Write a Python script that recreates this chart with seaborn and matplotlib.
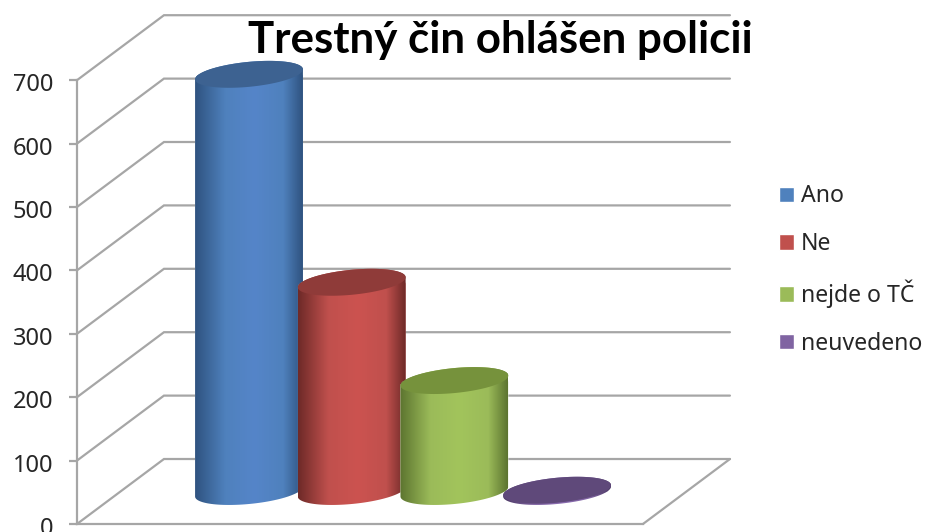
import numpy as np
import seaborn as sns
import matplotlib.pyplot as plt
from matplotlib.colors import LinearSegmentedColormap
from matplotlib.patches import Polygon
from matplotlib.transforms import ScaledTranslation

# Chart data
categories = ['Ano', 'Ne', 'nejde o TČ', 'neuvedeno']
values = [658, 330, 175, 2]
y_ticks = [0, 100, 200, 300, 400, 500, 600, 700]
title = 'Trestný čin ohlášen policii'

# Colours
colors = ['#4f81bd', '#c0504d', '#9bbb59', '#8064a2']
top_colors = ['#3d6291', '#8f3b39', '#76923c', '#5f497a']
dark_colors = ['#2f5380', '#6e2a28', '#5d7530', '#4b3864']
light_colors = ['#5585c9', '#cc5350', '#a2c45c', '#8a6cb0']
grid_color = '#a6a6a6'

# Pixel scale of the axes, which fill the whole figure
px_x = 102.7
px_y = 0.634
depth = 51.25
depth_x = 0.847
wall_left = -1.675
wall_right = 4.683

sns.set_theme(style='white')
plt.rcParams['font.family'] = ['Noto Sans', 'DejaVu Sans']

fig = plt.figure(figsize=(9.28, 5.32), dpi=100)
ax = fig.add_axes([0, 0, 1, 1])
ax.patch.set_alpha(0)

sns.barplot(x=categories, y=values, hue=categories, palette=colors,
            hue_order=categories, width=1.05, saturation=1, ax=ax, legend=True)

xlim = (-249 / px_x, 679 / px_x)
ylim = (-40.5 / px_y, 491.5 / px_y)


def ellipse_points(cx, cy, half_w, t):
    # tilted ellipse, right side sits higher than left
    x = cx + half_w * np.cos(t)
    y = cy + (5 * np.cos(t) + 12.5 * np.sin(t)) / px_y
    return np.column_stack([x, y])


# Cylinders drawn over the seaborn bars
for i, bar in enumerate(ax.patches[:len(categories)]):
    left = bar.get_x()
    right = left + bar.get_width()
    cx = left + bar.get_width() / 2
    h = bar.get_height()
    half_w = bar.get_width() / 2
    z = 3 + i

    lower = ellipse_points(cx, 0, half_w, np.linspace(np.pi, 2 * np.pi, 60))
    upper = ellipse_points(cx, h, half_w, np.linspace(0, np.pi, 60))
    body = Polygon(np.vstack([lower, upper]), closed=True,
                   facecolor='none', edgecolor='none', zorder=z)
    ax.add_patch(body)
    bar.set_zorder(z)
    bar.set_clip_path(body)

    cmap = LinearSegmentedColormap.from_list(
        'cyl', [(0, dark_colors[i]), (0.28, colors[i]), (0.55, light_colors[i]),
                (0.82, colors[i]), (1, dark_colors[i])])
    im = ax.imshow(np.linspace(0, 1, 200)[None, :], extent=(left, right, -30, h + 30),
                   aspect='auto', cmap=cmap, zorder=z + 0.1)
    im.set_clip_path(body)

    cap = Polygon(ellipse_points(cx, h, half_w, np.linspace(0, 2 * np.pi, 120)),
                  closed=True, facecolor=top_colors[i], edgecolor='none', zorder=z + 0.2)
    ax.add_patch(cap)

# Walls and floor of the 3D box
for v in y_ticks:
    ax.plot([wall_left, wall_left + depth_x, wall_right],
            [v - depth, v + depth, v + depth],
            color=grid_color, lw=1.6, zorder=1, solid_joinstyle='miter')
ax.plot([wall_right, wall_right - depth_x], [depth, -depth], color=grid_color, lw=1.6, zorder=1)

ax.set_xlim(xlim)
ax.set_ylim(ylim)

# Value axis sits on the front edge of the box
for side in ['top', 'right']:
    ax.spines[side].set_visible(False)
ax.spines['left'].set_position(('data', wall_left))
ax.spines['left'].set_bounds(-depth, 700 - depth)
ax.spines['bottom'].set_position(('data', -depth))
ax.spines['bottom'].set_bounds(wall_left, wall_right - depth_x)
for side in ['left', 'bottom']:
    ax.spines[side].set_color(grid_color)
    ax.spines[side].set_linewidth(1.6)
ax.set_xticks([])
ax.set_yticks([v - depth for v in y_ticks])
ax.set_yticklabels(y_ticks)
ax.tick_params(axis='y', left=True, length=5.8, width=1.6, color=grid_color,
               pad=11.5, labelsize=17, labelcolor='#262626')
# labels sit a little below their ticks
for lab in ax.get_yticklabels():
    lab.set_transform(lab.get_transform() + ScaledTranslation(0, -0.02, fig.dpi_scale_trans))
ax.set_xlabel('')
ax.set_ylabel('')

ax.set_title(title, fontsize=31.6, fontweight='bold', family=['Lato', 'DejaVu Sans'],
             color='black', x=500 / 928, y=1 - 53 / 532, pad=0)

sns.move_legend(ax, 'center left', bbox_to_anchor=(779 / 928, 1 - 270 / 532),
                frameon=False, title=None, fontsize=16.6, labelspacing=1.02,
                handlelength=0.66, handleheight=0.66, handletextpad=0.3,
                borderpad=0, borderaxespad=0, labelcolor='#262626')

fig.savefig('out.png', dpi=100)
